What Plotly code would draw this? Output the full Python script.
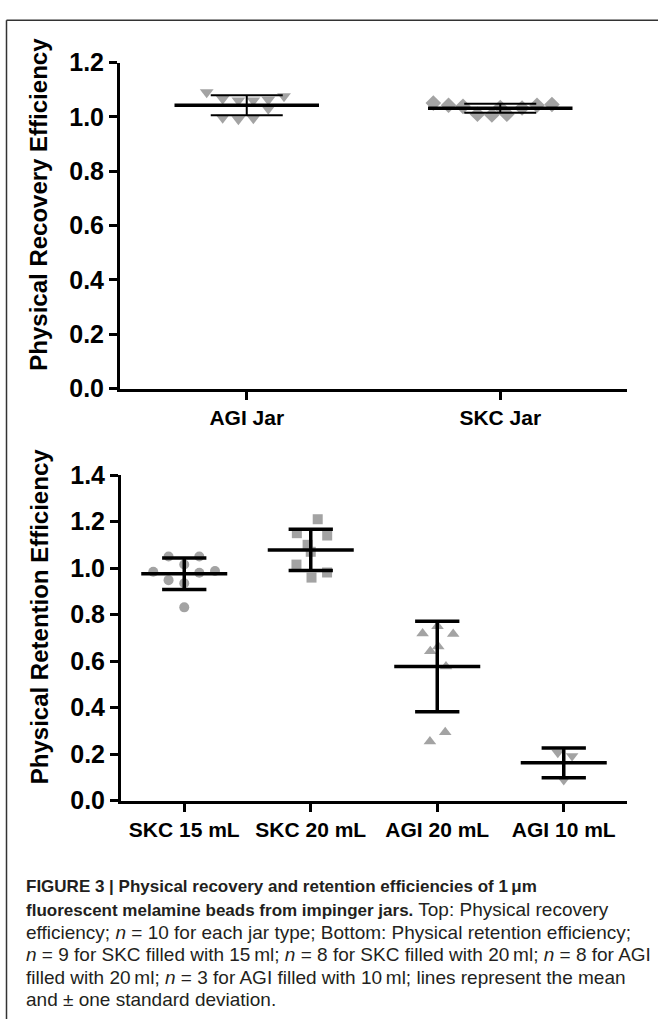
import numpy as np
import plotly.graph_objects as go

# ---------------- data ----------------
categories_top = ["AGI Jar", "SKC Jar"]
agi_jar = [1.091, 1.067, 1.061, 1.061, 1.063, 1.076, 1.030, 0.997, 0.992, 0.995]
skc_jar = [1.051, 1.043, 1.039, 1.010, 1.007, 1.010, 1.033, 1.043, 1.046, 1.035]

categories_bottom = ["SKC 15 mL", "SKC 20 mL", "AGI 20 mL", "AGI 10 mL"]
skc_15 = [1.015, 0.984, 0.948, 0.935, 0.980, 0.987, 0.831, 1.050, 1.050]
skc_20 = [1.21, 1.15, 1.14, 1.10, 1.07, 1.015, 0.959, 0.981]
agi_20 = [0.719, 0.750, 0.716, 0.642, 0.663, 0.577, 0.294, 0.254]
agi_10 = [0.206, 0.192, 0.089]

top_ticks = [0.0, 0.2, 0.4, 0.6, 0.8, 1.0, 1.2]
bottom_ticks = [0.0, 0.2, 0.4, 0.6, 0.8, 1.0, 1.2, 1.4]

# horizontal scatter offsets (fraction of category spacing), presentation only
jit_agi_jar = [-0.158, -0.095, -0.033, 0.026, 0.085, 0.147, 0.085, -0.095, -0.033, 0.026]
jit_skc_jar = [-0.264, -0.204, -0.147, -0.090, -0.033, 0.026, 0.086, 0.145, 0.204, 0.0]
jit_skc_15 = [0.0, -0.245, -0.124, 0.0, 0.119, 0.243, 0.0, -0.124, 0.119]
jit_skc_20 = [0.055, -0.11, 0.13, -0.025, 0.0, -0.113, 0.006, 0.129]
jit_agi_20 = [-0.116, 0.002, 0.126, -0.055, 0.008, 0.069, 0.063, -0.058]
jit_agi_10 = [-0.047, 0.066, 0.0]

W, H = 658, 1033
GRAY = "#a3a3a3"
FONT = "Liberation Sans, Arial, sans-serif"

fig = go.Figure()


def px_x(p):
    return p / W


def px_y(p):
    return 1 - p / H


def add_group(xi, vals, jit, symbol, size, xa, ya, mean_hw, sd_hw, mean_w, sd_w):
    vals = np.array(vals)
    fig.add_trace(go.Scatter(
        x=[xi + j for j in jit], y=vals, mode="markers",
        marker=dict(symbol=symbol, size=size, color=GRAY, line=dict(width=0)),
        xaxis=xa, yaxis=ya, showlegend=False, hoverinfo="y"))
    m = vals.mean()
    s = vals.std(ddof=1)
    fig.add_trace(go.Scatter(x=[xi - mean_hw, xi + mean_hw], y=[m, m], mode="lines",
                             line=dict(color="black", width=mean_w), xaxis=xa, yaxis=ya,
                             showlegend=False, hoverinfo="skip"))
    for v in (m - s, m + s):
        fig.add_trace(go.Scatter(x=[xi - sd_hw, xi + sd_hw], y=[v, v], mode="lines",
                                 line=dict(color="black", width=sd_w), xaxis=xa, yaxis=ya,
                                 showlegend=False, hoverinfo="skip"))
    fig.add_trace(go.Scatter(x=[xi, xi], y=[m - s, m + s], mode="lines",
                             line=dict(color="black", width=sd_w), xaxis=xa, yaxis=ya,
                             showlegend=False, hoverinfo="skip"))


# top panel
add_group(0, agi_jar, jit_agi_jar, "triangle-down", 12, "x", "y", 0.285, 0.142, 3.5, 2)
add_group(1, skc_jar, jit_skc_jar, "diamond", 12, "x", "y", 0.285, 0.142, 3.5, 2)
# bottom panel
add_group(0, skc_15, jit_skc_15, "circle", 10, "x2", "y2", 0.34, 0.175, 3.5, 3.5)
add_group(1, skc_20, jit_skc_20, "square", 10, "x2", "y2", 0.34, 0.175, 3.5, 3.5)
add_group(2, agi_20, jit_agi_20, "triangle-up", 11, "x2", "y2", 0.34, 0.175, 3.5, 3.5)
add_group(3, agi_10, jit_agi_10, "triangle-down", 11, "x2", "y2", 0.34, 0.175, 3.5, 3.5)

axis_common = dict(showline=True, linecolor="black", linewidth=3, ticks="outside",
                   tickcolor="black", tickwidth=3, ticklen=8, showgrid=False,
                   zeroline=False, fixedrange=True)

fig.update_layout(
    width=W, height=H, autosize=False,
    margin=dict(l=0, r=0, t=0, b=0),
    paper_bgcolor="white", plot_bgcolor="white",
    xaxis=dict(domain=[px_x(120), px_x(627)], range=[-0.5, 1.5], anchor="y",
               tickvals=list(range(len(categories_top))), ticktext=categories_top,
               tickfont=dict(family=FONT, size=21, color="black"), **axis_common),
    yaxis=dict(domain=[px_y(385), px_y(50)], range=[0, 1.2], anchor="x",
               tickvals=top_ticks, ticktext=[f"{t:.1f}" for t in top_ticks],
               tickfont=dict(family=FONT, size=25, color="black"), **axis_common),
    xaxis2=dict(domain=[px_x(121), px_x(627)], range=[-0.5, 3.5], anchor="y2",
                tickvals=list(range(len(categories_bottom))), ticktext=categories_bottom,
                tickfont=dict(family=FONT, size=21, color="black"), **axis_common),
    yaxis2=dict(domain=[px_y(808.5), px_y(473.9)], range=[0, 1.4], anchor="x2",
                tickvals=bottom_ticks, ticktext=[f"{t:.1f}" for t in bottom_ticks],
                tickfont=dict(family=FONT, size=25, color="black"), **axis_common),
)

for ax in ("xaxis", "yaxis", "xaxis2", "yaxis2"):
    fig.layout[ax].tickfont.weight = "bold"

ann = []
ann.append(dict(text="<b>Physical Recovery Efficiency</b>", x=px_x(39), y=px_y(196),
                xref="paper", yref="paper", textangle=-90, showarrow=False,
                font=dict(family=FONT, size=24, color="black"), xanchor="center", yanchor="middle"))
ann.append(dict(text="<b>Physical Retention Efficiency</b>", x=px_x(39), y=px_y(620),
                xref="paper", yref="paper", textangle=-90, showarrow=False,
                font=dict(family=FONT, size=24, color="black"), xanchor="center", yanchor="middle"))


def B(t):
    return f'<span style="font-size:17px"><b>{t}</b></span>'


caption_lines = [
    B("FIGURE 3 | Physical recovery and retention efficiencies of 1\u2009\u03bcm"),
    B("fluorescent melamine beads from impinger jars.") + " Top: Physical recovery",
    "efficiency; <i>n</i> = 10 for each jar type; Bottom: Physical retention efficiency;",
    "<i>n</i> = 9 for SKC filled with 15\u2009ml; <i>n</i> = 8 for SKC filled with 20\u2009ml; <i>n</i> = 8 for AGI",
    "filled with 20\u2009ml; <i>n</i> = 3 for AGI filled with 10\u2009ml; lines represent the mean",
    "and \u00b1 one standard deviation.",
]
caption_y = [897, 920, 944, 967, 990, 1013]
for t, yy in zip(caption_lines, caption_y):
    ann.append(dict(text=t, x=px_x(24), y=px_y(yy), xref="paper", yref="paper",
                    showarrow=False, xanchor="left", yanchor="middle",
                    font=dict(family=FONT, size=19, color="#231f20")))
fig.update_layout(annotations=ann)

# page frame: only the left and top edges fall inside the picture
fig.add_shape(type="line", xref="paper", yref="paper",
              x0=px_x(6.5), x1=px_x(6.5), y0=0, y1=px_y(6.5),
              line=dict(color="#333333", width=1.5))
fig.add_shape(type="line", xref="paper", yref="paper",
              x0=px_x(6.5), x1=1, y0=px_y(6.5), y1=px_y(6.5),
              line=dict(color="#333333", width=1.5))

fig.write_html("out.html",
               config={"displayModeBar": False, "staticPlot": False},
               post_script="document.body.style.margin='0';"
                           "document.body.style.overflow='hidden';")
